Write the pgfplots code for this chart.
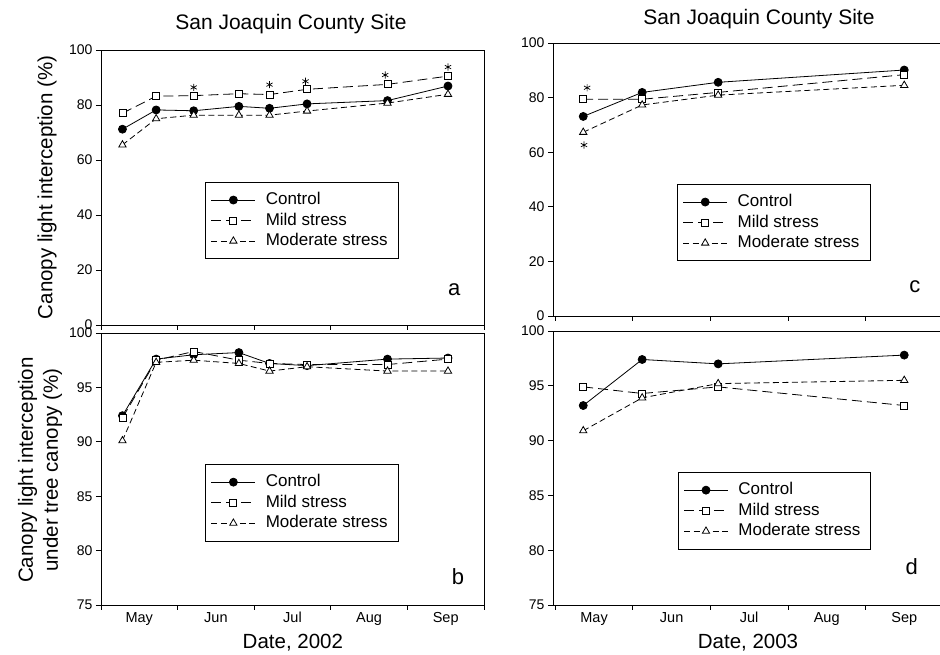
\documentclass[border=0pt]{standalone}
\usepackage{fontspec}
\setmainfont{Liberation Sans}
\usepackage{pgfplots}
\pgfplotsset{compat=1.18}
\pgfplotsset{
  base/.style={
    scale only axis, anchor=south west,
    axis line style={line width=0.8pt},
    every tick/.style={line width=0.8pt, black},
    tick align=outside, major tick length=5pt,
    xtick pos=bottom, ytick pos=left,
    xmin=0, xmax=5, xtick={0,1,2,3,4,5}, xticklabels={},
    tick label style={font=\fontsize{14}{14}\selectfont},
    /pgf/number format/assume math mode=true,
    clip=false,
    legend cell align=left,
    legend style={draw=black, line width=0.6pt, fill=white,
      font=\fontsize{17}{20}\selectfont, anchor=north west,
      inner xsep=5.5pt, inner ysep=7.5pt, row sep=0pt, column sep=5pt,
      nodes={inner xsep=5pt, inner ysep=1.75pt, text height=13pt, text depth=4pt}},
    legend image code/.code={\draw[mark repeat=2,mark phase=2,line width=0.8pt,##1] plot coordinates {(0pt,0pt) (22pt,0pt) (44pt,0pt)};},
    ylabel style={font=\fontsize{20.5}{25}\selectfont, align=center, anchor=center},
    xlabel style={font=\fontsize{20.5}{25}\selectfont, anchor=center},
    title style={font=\fontsize{21}{25}\selectfont, anchor=center},
  },
  months/.style={extra x ticks={0.5,1.5,2.5,3.5,4.5},
    extra x tick labels={May,Jun,Jul,Aug,Sep},
    extra x tick style={major tick length=0pt, tick label style={yshift=-3pt, text height=11pt, text depth=3pt, font=\fontsize{14.5}{14.5}\selectfont}}},
  ctrl/.style={black, line width=0.8pt, mark=*, mark size=4pt, mark options={solid, fill=black}},
  mild/.style={black, line width=0.8pt, dash pattern=on 10pt off 5pt, mark=square*, mark size=3.5pt, mark options={solid, fill=white}},
  mod/.style={black, line width=0.8pt, dash pattern=on 6pt off 3.5pt, mark=triangle*, mark size=4.2pt, mark options={solid, fill=white}},
  star/.style={only marks, mark=asterisk, mark size=3.6pt, black, line width=0.7pt, forget plot},
}
\begin{document}
\begin{tikzpicture}[x=1pt,y=1pt]
\useasboundingbox (0,0) rectangle (940,655);
\clip (0,0) rectangle (940,655);

% Panel a
\begin{axis}[base, at={(101pt,330pt)}, width=383pt, height=275pt,
  ymin=0, ymax=100, ytick={0,20,40,60,80,100},
  title={San Joaquin County Site}, title style={at={(axis description cs:0.496,1.074)}},
  ylabel={Canopy light interception (\%)}, ylabel style={at={(axis description cs:-0.141,0.5)}},
  legend style={at={(axis description cs:0.272,0.52)}}]
\addplot[ctrl] coordinates {(0.28,71.2) (0.72,78.2) (1.21,77.9) (1.80,79.5) (2.20,78.8) (2.69,80.4) (3.74,81.6) (4.53,86.9)};
\addplot[mild] coordinates {(0.28,77.0) (0.72,83.2) (1.21,83.4) (1.80,84.1) (2.20,83.8) (2.69,85.7) (3.74,87.5) (4.53,90.5)};
\addplot[mod] coordinates {(0.28,65.5) (0.72,75.0) (1.21,76.3) (1.80,76.3) (2.20,76.3) (2.69,77.8) (3.74,80.7) (4.53,83.9)};
\addplot[star] coordinates {(1.21,86.4) (2.20,87.4) (2.67,88.6) (3.71,90.9) (4.53,93.8)};
\legend{Control, Mild stress, Moderate stress}
\node[font=\fontsize{22}{22}\selectfont] at (axis description cs:0.922,0.127) {a};
\end{axis}

% Panel b
\begin{axis}[base, months, at={(101pt,50pt)}, width=383pt, height=272pt,
  ymin=75, ymax=100, ytick={75,80,85,90,95,100},
  xlabel={Date, 2002}, xlabel style={at={(axis description cs:0.501,-0.14)}},
  ylabel={Canopy light interception\\under tree canopy (\%)}, ylabel style={at={(axis description cs:-0.159,0.496)}},
  legend style={at={(axis description cs:0.272,0.518)}}]
\addplot[ctrl] coordinates {(0.28,92.4) (0.72,97.6) (1.21,98.0) (1.80,98.2) (2.20,97.2) (2.69,97.0) (3.74,97.6) (4.53,97.7)};
\addplot[mild] coordinates {(0.28,92.2) (0.72,97.5) (1.21,98.3) (1.80,97.5) (2.20,97.2) (2.69,97.1) (3.74,97.1) (4.53,97.6)};
\addplot[mod] coordinates {(0.28,90.1) (0.72,97.3) (1.21,97.5) (1.80,97.2) (2.20,96.5) (2.69,96.9) (3.74,96.5) (4.53,96.5)};
\legend{Control, Mild stress, Moderate stress}
\node[font=\fontsize{22}{22}\selectfont] at (axis description cs:0.932,0.103) {b};
\end{axis}

% Panel c
\begin{axis}[base, at={(553pt,339pt)}, width=390pt, height=273pt, xmin=-0.03, xmax=5,
  ymin=0, ymax=100, ytick={0,20,40,60,80,100},
  title={San Joaquin County Site}, title style={at={(axis description cs:0.528,1.066)}},
  legend style={at={(axis description cs:0.318,0.4835)}}]
\addplot[ctrl] coordinates {(0.36,73.1) (1.12,81.9) (2.10,85.6) (4.50,90.1)};
\addplot[mild] coordinates {(0.36,79.4) (1.12,79.4) (2.10,81.9) (4.50,88.4)};
\addplot[mod] coordinates {(0.36,67.3) (1.12,77.3) (2.10,80.9) (4.50,84.5)};
\addplot[star] coordinates {(0.41,83.6) (0.37,62.6)};
\legend{Control, Mild stress, Moderate stress}
\node[font=\fontsize{22}{22}\selectfont] at (axis description cs:0.928,0.106) {c};
\end{axis}

% Panel d
\begin{axis}[base, months, at={(553pt,50pt)}, width=390pt, height=274pt, xmin=-0.03, xmax=5,
  ymin=75, ymax=100, ytick={75,80,85,90,95,100},
  xlabel={Date, 2003}, xlabel style={at={(axis description cs:0.5,-0.139)}},
  legend style={at={(axis description cs:0.32,0.485)}}]
\addplot[ctrl] coordinates {(0.36,93.2) (1.12,97.4) (2.10,97.0) (4.50,97.8)};
\addplot[mild] coordinates {(0.36,94.9) (1.12,94.3) (2.10,94.9) (4.50,93.2)};
\addplot[mod] coordinates {(0.36,90.9) (1.12,93.9) (2.10,95.2) (4.50,95.5)};
\legend{Control, Mild stress, Moderate stress}
\node[font=\fontsize{22}{22}\selectfont] at (axis description cs:0.92,0.139) {d};
\end{axis}
\end{tikzpicture}
\end{document}
